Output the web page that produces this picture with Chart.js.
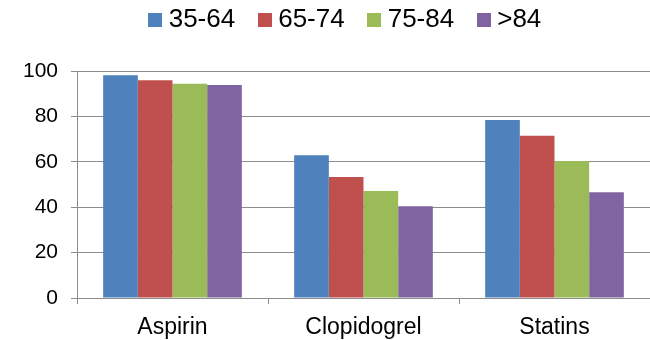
<!DOCTYPE html>
<html>
<head>
<meta charset="utf-8">
<script src="https://cdn.jsdelivr.net/npm/chart.js@4/dist/chart.umd.min.js"></script>
<style>
  html, body { margin: 0; padding: 0; background: #fff; }
  #wrap { width: 650px; height: 340px; position: relative; }
</style>
</head>
<body>
<div id="wrap"><canvas id="c"></canvas></div>
<script>
// Drug use (%) by age group
const categories = ['Aspirin', 'Clopidogrel', 'Statins'];
const ageGroups = ['35-64', '65-74', '75-84', '>84'];
const age35to64 = [98.1, 62.9, 78.4];
const age65to74 = [95.9, 53.3, 71.5];
const age75to84 = [94.4, 47.1, 60.4];
const ageOver84 = [93.8, 40.4, 46.6];
const yTicks = [0, 20, 40, 60, 80, 100];

const seriesValues = [age35to64, age65to74, age75to84, ageOver84];
const seriesColors = ['#4F81BD', '#C0504D', '#9BBB59', '#8064A2'];
const gridGray = '#8c8c8c';
const font = 'Liberation Sans, Arial, sans-serif';

// Small square swatch used as the legend marker of each series
function swatch(color) {
  const c = document.createElement('canvas');
  c.width = 14;
  c.height = 14;
  const g = c.getContext('2d');
  g.fillStyle = color;
  g.fillRect(0, 0, 14, 14);
  return c;
}

// Legend box: fixed height above the plot, items nudged right and up
const legendPlacement = {
  id: 'legendPlacement',
  beforeInit(chart) {
    const fit = chart.legend.fit;
    chart.legend.fit = function () {
      fit.call(this);
      this.height = 71;
    };
  },
  afterLayout(chart) {
    const lg = chart.legend;
    lg.left += 23;
    lg.right += 23;
    lg.top = -22;
  }
};

new Chart(document.getElementById('c'), {
  type: 'bar',
  data: {
    labels: categories,
    datasets: ageGroups.map((g, i) => ({
      label: g,
      data: seriesValues[i],
      backgroundColor: seriesColors[i],
      pointStyle: swatch(seriesColors[i]),
      borderWidth: 0,
      categoryPercentage: 0.726,
      barPercentage: 1
    }))
  },
  options: {
    responsive: true,
    maintainAspectRatio: false,
    animation: false,
    events: [],
    layout: { padding: 0 },
    plugins: {
      legend: {
        position: 'top',
        labels: {
          usePointStyle: true,
          pointStyleWidth: 1,
          boxHeight: 14,
          padding: 29,
          color: '#000',
          font: { family: font, size: 26 }
        }
      },
      tooltip: { enabled: false }
    },
    scales: {
      x: {
        afterFit(scale) { scale.height = 42; },
        grid: {
          display: true,
          drawOnChartArea: false,
          drawTicks: true,
          tickLength: 6,
          color: gridGray,
          offset: true
        },
        border: { display: true, color: gridGray, width: 1 },
        ticks: {
          color: '#000',
          padding: 10,
          font: { family: font, size: 23 }
        }
      },
      y: {
        min: 0,
        max: 100,
        afterFit(scale) { scale.width = 77; },
        afterBuildTicks(scale) { scale.ticks = yTicks.map(v => ({ value: v })); },
        grid: {
          color: gridGray,
          lineWidth: 1,
          drawTicks: true,
          tickLength: 6
        },
        border: { display: true, color: gridGray, width: 1 },
        ticks: {
          color: '#000',
          padding: 13,
          font: { family: font, size: 21 }
        }
      }
    }
  },
  plugins: [legendPlacement]
});
</script>
</body>
</html>
